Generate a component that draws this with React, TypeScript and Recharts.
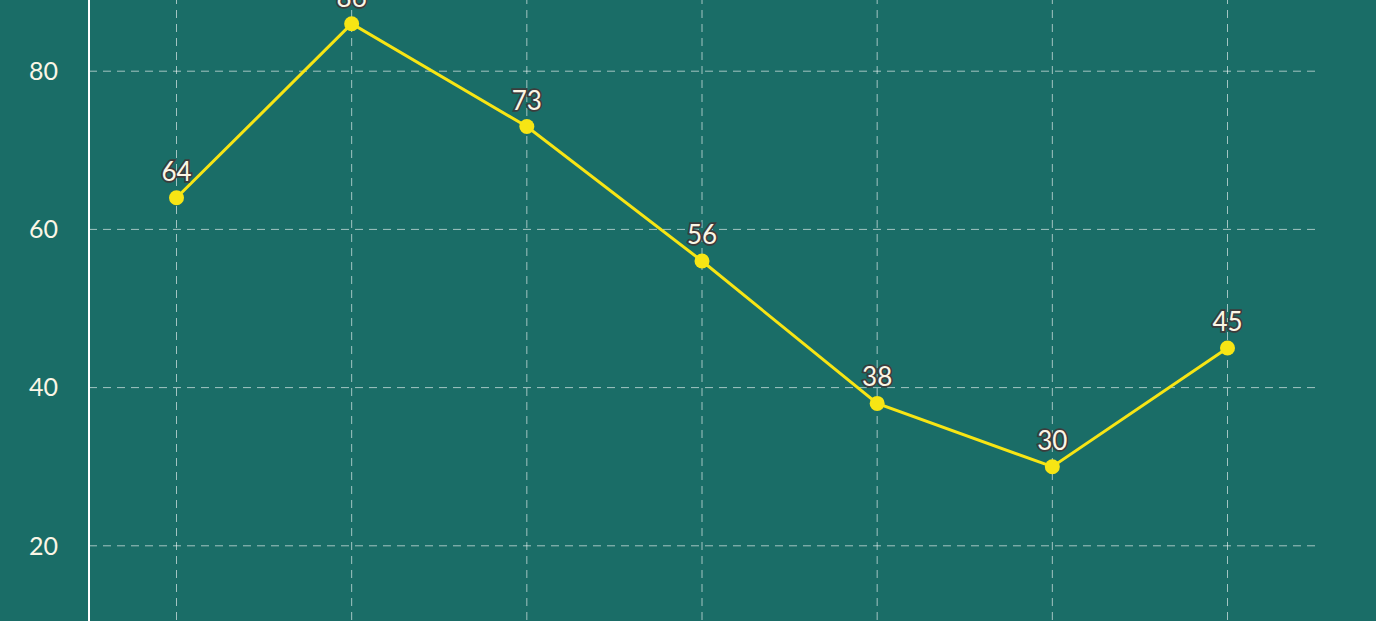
import { LineChart, Line, XAxis, YAxis, CartesianGrid, LabelList, ReferenceLine } from 'recharts';

const categories = ['A', 'B', 'C', 'D', 'E', 'F', 'G'];
const values = [64, 86, 73, 56, 38, 30, 45];
const yTicks = [0, 20, 40, 60, 80, 100];

const data = categories.map((c, i) => ({ name: c, value: values[i] }));

const BG = '#1a6d67';
const FONT = 'Lato, "Open Sans", sans-serif';
const GRID = 'rgba(255,255,255,0.6)';

const App = () => {
  return (
    <div
      style={{
        position: 'fixed',
        top: 0,
        left: 0,
        width: 1376,
        height: 621,
        overflow: 'hidden',
        background: BG,
      }}
    >
      {/* chart is bigger than the window; only the middle part shows */}
      <div style={{ position: 'absolute', top: -201, left: 0 }}>
        <LineChart
          width={1376}
          height={965}
          data={data}
          margin={{ top: 114, right: 61, left: 0, bottom: 60 }}
        >
          <CartesianGrid stroke={GRID} strokeDasharray="8 6" strokeWidth={1} vertical={false} />
          {categories.map((c) => (
            <ReferenceLine key={c} x={c} stroke={GRID} strokeDasharray="8 6" strokeWidth={1} />
          ))}
          <XAxis dataKey="name" hide padding={{ left: 87.5, right: 87.5 }} />
          <YAxis
            domain={[0, 100]}
            ticks={yTicks}
            width={89}
            axisLine={{ stroke: '#ffffff', strokeWidth: 2 }}
            tickLine={false}
            tick={{ fill: '#fbf6e6', fontSize: 25, fontFamily: FONT }}
            tickMargin={25}
          />
          <Line
            type="linear"
            dataKey="value"
            stroke="#f7e514"
            strokeWidth={3}
            dot={{ r: 7.5, fill: '#f7e514', stroke: 'none' }}
            isAnimationActive={false}
          >
            <LabelList
              dataKey="value"
              position="top"
              offset={17}
              fill="#fbf6e6"
              stroke="#3c3c3c"
              strokeWidth={3.5}
              paintOrder="stroke"
              fontSize={26}
              fontFamily={FONT}
            />
          </Line>
        </LineChart>
      </div>
    </div>
  );
};

export default App;
